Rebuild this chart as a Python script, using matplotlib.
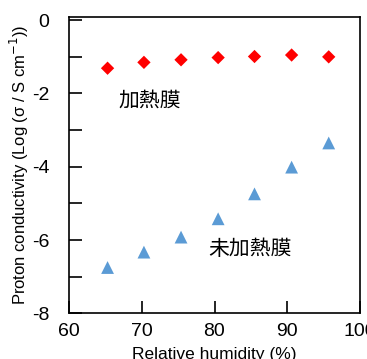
import matplotlib
matplotlib.use('Agg')
import matplotlib.pyplot as plt
from matplotlib.ticker import MultipleLocator

plt.rcParams['font.family'] = ['Liberation Sans', 'Noto Sans CJK JP', 'DejaVu Sans']
cjk = ['Noto Sans CJK JP', 'DejaVu Sans']

# relative humidity (%)
rh_heated = [65.3, 70.3, 75.4, 80.5, 85.5, 90.6, 95.7]
rh_unheated = [65.3, 70.3, 75.4, 80.5, 85.5, 90.6, 95.7]
# log conductivity
log_heated = [-1.31, -1.15, -1.08, -1.02, -0.99, -0.95, -1.00]
log_unheated = [-6.75, -6.33, -5.92, -5.42, -4.74, -4.01, -3.35]

fig = plt.figure(figsize=(3.67, 3.59), dpi=100)
ax = fig.add_axes([69/367, 1 - 313.3/359, 291/367, 296/359])

ax.scatter(rh_heated, log_heated, marker='D', s=46, color='#FF0000', edgecolors='none', zorder=3)
ax.scatter(rh_unheated, log_unheated, marker='^', s=85, color='#5B9BD5', edgecolors='none', zorder=3)

ax.text(66.8, -2.2, '加熱膜', fontsize=15, family=cjk, ha='left', va='center')
ax.text(79.2, -6.25, '未加熱膜', fontsize=15, family=cjk, ha='left', va='center')

ax.set_xlim(60, 100)
ax.set_ylim(-8, 0.08)
ax.xaxis.set_major_locator(MultipleLocator(10))
ax.yaxis.set_major_locator(MultipleLocator(2))
ax.yaxis.set_minor_locator(MultipleLocator(1))
ax.tick_params(axis='both', which='both', direction='in', top=False, right=False,
               labelsize=14, length=9, width=1.2)
ax.tick_params(axis='y', which='major', pad=14)
ax.tick_params(axis='x', which='major', pad=7)
ax.yaxis.set_major_formatter(plt.FuncFormatter(lambda v, p: '%d' % v))
for sp in ax.spines.values():
    sp.set_linewidth(1.2)

ax.set_xlabel('Relative humidity (%)', fontsize=12.5, labelpad=5)
ax.set_ylabel('Proton conductivity (Log (σ / S cm$^{-1}$))', fontsize=12, labelpad=1)

fig.savefig('out.png', dpi=100)
